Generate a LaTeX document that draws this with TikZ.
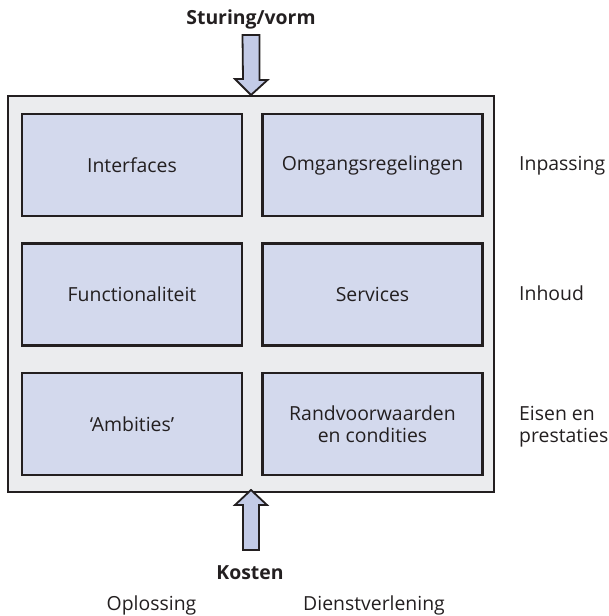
\documentclass[tikz,border=0pt]{standalone}
\usepackage{fontspec}
\setmainfont{Open Sans}
\definecolor{ink}{HTML}{231F20}
\definecolor{cellfill}{HTML}{D3D9ED}
\definecolor{framefill}{HTML}{EBECEE}
\definecolor{arrowfill}{HTML}{C3CBE7}
\tikzset{
  txt/.style={font=\fontsize{19.4pt}{22pt}\selectfont, text=ink, inner sep=0pt},
  cell/.style={txt, draw=ink, line width=2.2pt, fill=cellfill,
    minimum width=220pt, minimum height=102pt, align=center},
  frame/.style={draw=ink, line width=2pt, fill=framefill,
    minimum width=486pt, minimum height=396pt},
  bigarrow/.style={draw=ink, line width=1.8pt, fill=arrowfill, line join=miter},
  boldtxt/.style={txt, font=\fontsize{19.4pt}{22pt}\selectfont\bfseries}
}
\begin{document}
\begin{tikzpicture}[x=1pt,y=-1pt]
\useasboundingbox (0,0) rectangle (609,616);

% outer frame
\node[frame] (frame) at (251,294) {};

% six cells
\node[cell] (interfaces) at (132,165)   {Interfaces};
\node[cell] (omgang)     at (372.5,165) {Omgangsregelingen};
\node[cell] (functie)    at (132,294.5) {Functionaliteit};
\node[cell] (services)   at (372.5,294.5) {Services};
\node[cell] (ambities)   at (132,424)   {`Ambities'};
\node[cell] (randvw)     at (372.5,424) {Randvoorwaarden\\en condities};

% top input
\node[boldtxt, anchor=base] (sturing) at (251,24) {Sturing/vorm};
\coordinate (toptip) at (frame.north);
\draw[bigarrow] ([xshift=-8.5pt]toptip |- 0,35) -- ++(17,0) -- ++(0,45) -- ++(8,0)
  -- (toptip) -- ++(-16,-16) -- ++(8,0) -- cycle;

% bottom input
\node[boldtxt, anchor=base] (kosten) at (250,579) {Kosten};
\coordinate (bottip) at ([yshift=3pt]frame.south);
\draw[bigarrow] (bottip) -- ++(16,15) -- ++(-8,0) -- ++(0,45) -- ++(-16,0)
  -- ++(0,-45) -- ++(-8,0) -- cycle;

% column captions
\node[txt, anchor=base] (oplossing) at (151.5,610) {Oplossing};
\node[txt, anchor=base] (dienst)    at (374,610)   {Dienstverlening};

% row captions
\node[txt, anchor=base west] (inpassing) at (519,170) {Inpassing};
\node[txt, anchor=base west] (inhoud)    at (519,300) {Inhoud};
\node[txt, anchor=base west] (eisen)     at (519,420) {Eisen en};
\node[txt, anchor=base west] (prestaties) at (519,442) {prestaties};
\end{tikzpicture}
\end{document}
